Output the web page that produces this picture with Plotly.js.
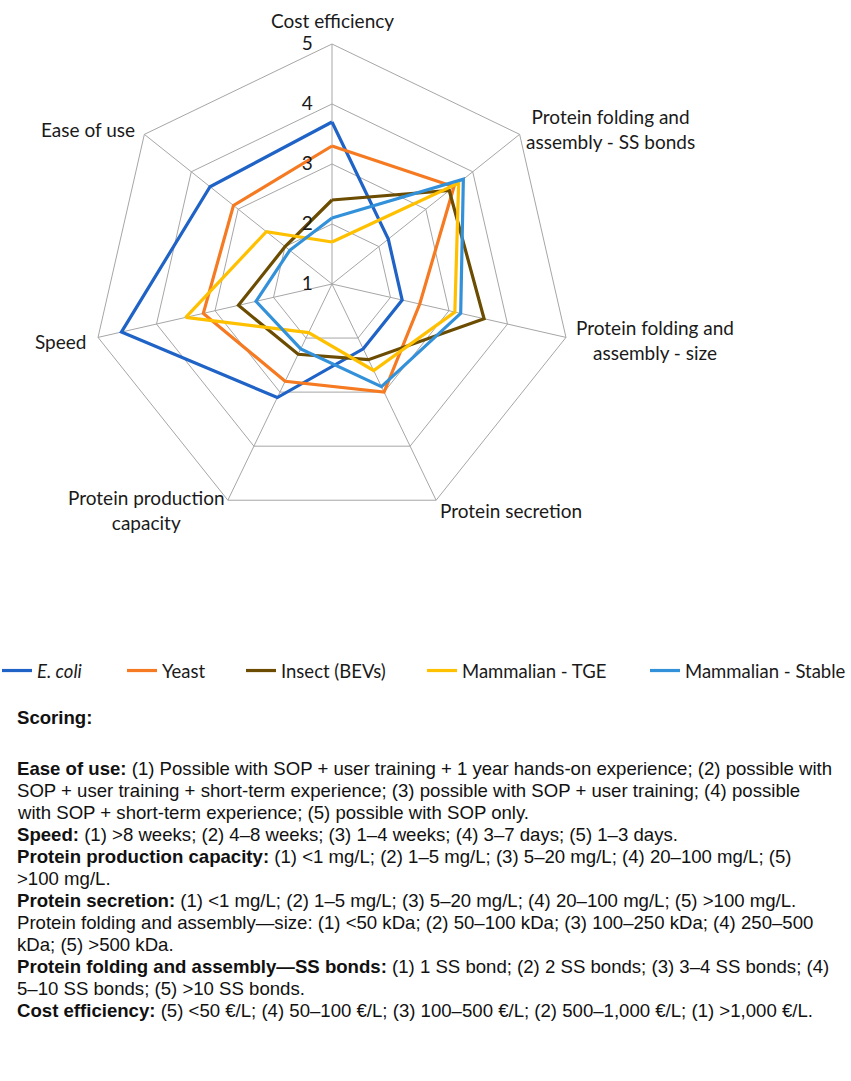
<!DOCTYPE html>
<html>
<head>
<meta charset="utf-8">
<script src="https://cdn.plot.ly/plotly-3.0.1.min.js"></script>
<style>
  html, body { margin: 0; padding: 0; background: #ffffff; }
  #chart { width: 851px; height: 1081px; }
</style>
</head>
<body>
<div id="chart"></div>
<script>
// ---- data ----
var categories = ['Cost efficiency', 'Protein folding and assembly - SS bonds', 'Protein folding and assembly - size',
  'Protein secretion', 'Protein production capacity', 'Speed', 'Ease of use'];
var categoryLabels = ['Cost efficiency', 'Protein folding and<br>assembly - SS bonds', 'Protein folding and<br>assembly - size',
  'Protein secretion', 'Protein production<br>capacity', 'Speed', 'Ease of use'];
var seriesNames = ['<i>E. coli</i>', 'Yeast', 'Insect (BEVs)', 'Mammalian - TGE', 'Mammalian - Stable'];
var ecoli  = [3.7, 2.2, 2.2, 2.2, 3.1, 4.6, 3.6];
var yeast  = [3.3, 3.6, 2.5, 3.0, 2.8, 3.2, 3.1];
var insect = [2.4, 3.5, 3.6, 2.4, 2.3, 2.6, 2.0];
var tge    = [1.7, 3.7, 3.1, 2.6, 1.9, 3.5, 2.4];
var stable = [2.1, 3.8, 3.2, 2.9, 2.2, 2.3, 1.9];
var radialTicks = [1, 2, 3, 4, 5];

var scoringLines = [
  '<b>Scoring:</b>',
  '',
  '<b>Ease of use:</b> (1) Possible with SOP + user training + 1 year hands-on experience; (2) possible with',
  'SOP + user training + short-term experience; (3) possible with SOP + user training; (4) possible',
  'with SOP + short-term experience; (5) possible with SOP only.',
  '<b>Speed:</b> (1) >8 weeks; (2) 4–8 weeks; (3) 1–4 weeks; (4) 3–7 days; (5) 1–3 days.',
  '<b>Protein production capacity:</b> (1) <1 mg/L; (2) 1–5 mg/L; (3) 5–20 mg/L; (4) 20–100 mg/L; (5)',
  '>100 mg/L.',
  '<b>Protein secretion:</b> (1) <1 mg/L; (2) 1–5 mg/L; (3) 5–20 mg/L; (4) 20–100 mg/L; (5) >100 mg/L.',
  'Protein folding and assembly—size: (1) <50 kDa; (2) 50–100 kDa; (3) 100–250 kDa; (4) 250–500',
  'kDa; (5) >500 kDa.',
  '<b>Protein folding and assembly—SS bonds:</b> (1) 1 SS bond; (2) 2 SS bonds; (3) 3–4 SS bonds; (4)',
  '5–10 SS bonds; (5) >10 SS bonds.',
  '<b>Cost efficiency:</b> (5) <50 €/L; (4) 50–100 €/L; (3) 100–500 €/L; (2) 500–1,000 €/L; (1) >1,000 €/L.'
];

// ---- styling / layout ----
var W = 851, H = 1081;
var colors = ['#1F63C6', '#F57A21', '#6B4C00', '#FFC000', '#3391DA'];
var allSeries = [ecoli, yeast, insect, tge, stable];
var chartFont = 'Lato, "Noto Sans", sans-serif';
var textFont = '"Liberation Sans", Arial, sans-serif';
var legendIds = ['legend', 'legend2', 'legend3', 'legend4', 'legend5'];
var legendTextX = [37, 162, 281, 462, 685];

// category label placement (pixel anchor, anchor type)
var labelPos = [
  { x: 332, y: 21, xa: 'center' },
  { x: 610, y: 129, xa: 'center' },
  { x: 655, y: 340, xa: 'center' },
  { x: 511, y: 510, xa: 'center' },
  { x: 146, y: 510, xa: 'center' },
  { x: 88,  y: 341, xa: 'right' },
  { x: 137, y: 129, xa: 'right' }
];

function closed(a) { return a.concat([a[0]]); }

var traces = allSeries.map(function (vals, i) {
  return {
    type: 'scatterpolar',
    mode: 'lines',
    r: closed(vals),
    theta: closed(categories),
    name: seriesNames[i],
    legend: legendIds[i],
    line: { color: colors[i], width: 3.2 },
    hoverinfo: 'skip'
  };
});

var cx = 332, cy = 284, R = 240;

var annotations = [];
scoringLines.forEach(function (t, i) {
  if (!t) return;
  var yy = (i < 2) ? 718 : (768 + (i - 2) * 22);
  annotations.push({
    xref: 'paper', yref: 'paper',
    x: 15 / W, y: 1 - yy / H,
    xanchor: 'left', yanchor: 'middle',
    text: t, showarrow: false, align: 'left',
    font: { family: textFont, size: 18.6, color: '#111111' }
  });
});
categoryLabels.forEach(function (t, i) {
  var p = labelPos[i];
  annotations.push({
    xref: 'paper', yref: 'paper',
    x: p.x / W, y: 1 - p.y / H,
    xanchor: p.xa, yanchor: 'middle',
    text: t, showarrow: false, align: 'center',
    font: { family: chartFont, size: 19, color: '#1a1a1a' }
  });
});

var layout = {
  width: W, height: H,
  margin: { l: 0, r: 0, t: 0, b: 0, autoexpand: false },
  paper_bgcolor: '#ffffff',
  showlegend: true,
  polar: {
    domain: { x: [(cx - R) / W, (cx + R) / W], y: [1 - (cy + R) / H, 1 - (cy - R) / H] },
    gridshape: 'linear',
    bgcolor: '#ffffff',
    radialaxis: {
      range: [1, 5],
      tickmode: 'array',
      tickvals: radialTicks,
      angle: 90,
      tickangle: 90,
      side: 'counterclockwise',
      showline: false,
      ticks: 'outside',
      ticklen: 12,
      tickcolor: 'rgba(0,0,0,0)',
      gridcolor: '#A6A6A6',
      gridwidth: 1,
      tickfont: { family: chartFont, size: 19, color: '#1a1a1a' }
    },
    angularaxis: {
      rotation: 90,
      direction: 'clockwise',
      showticklabels: false,
      ticks: '',
      gridcolor: '#A6A6A6',
      linecolor: '#A6A6A6',
      linewidth: 1
    }
  },
  annotations: annotations
};

legendIds.forEach(function (id, i) {
  layout[id] = {
    orientation: 'h',
    x: (legendTextX[i] - 40) / W, xanchor: 'left',
    y: 1 - 671 / H, yanchor: 'middle',
    bgcolor: 'rgba(0,0,0,0)',
    font: { family: chartFont, size: 18.5, color: '#1a1a1a' }
  };
});

Plotly.newPlot('chart', traces, layout, { displayModeBar: false, staticPlot: true });
</script>
</body>
</html>
